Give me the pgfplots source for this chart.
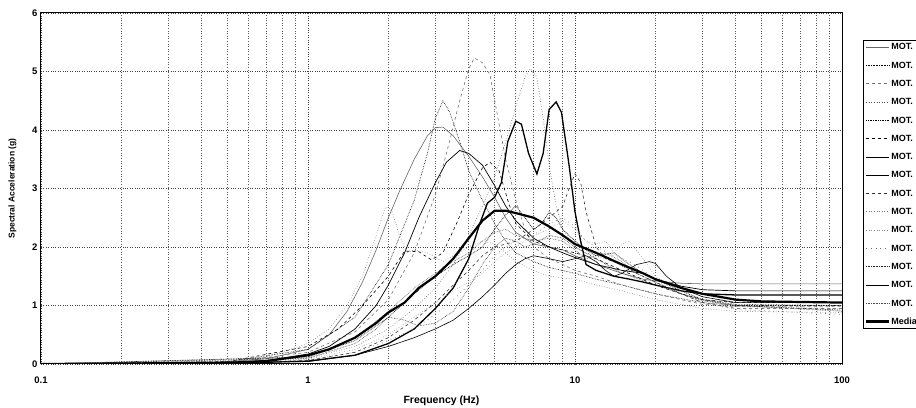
\documentclass[border=0pt]{standalone}
\usepackage{fontspec}
\setmainfont{Liberation Sans}
\usepackage{pgfplots}
\pgfplotsset{compat=1.18}
\begin{document}
\begin{tikzpicture}
\begin{axis}[
  name=ax,
  at={(0pt,0pt)}, anchor=south west,
  scale only axis,
  width=801pt, height=351pt,
  xmode=log, xmin=0.1, xmax=100, ymin=0, ymax=6,
  xtick={0.1,1,10,100}, xticklabels={0.1,1,10,100},
  minor xtick={0.2,0.3,0.4,0.5,0.6,0.7,0.8,0.9,2,3,4,5,6,7,8,9,20,30,40,50,60,70,80,90},
  ytick={0,1,2,3,4,5,6}, yticklabels={0,1,2,3,4,5,6},
  major tick length=0pt, minor tick length=0pt,
  xmajorgrids, xminorgrids, ymajorgrids,
  grid style={dotted, black!75, line width=0.6pt},
  minor grid style={dotted, black!65, line width=0.6pt},
  axis line style={black, line width=1pt},
  tick label style={font=\fontsize{9.5}{10}\selectfont\bfseries},
  xticklabel style={yshift=-9pt},
  xlabel={Frequency (Hz)}, ylabel={Spectral Acceleration (g)},
  xlabel style={font=\fontsize{10.5}{12}\selectfont\bfseries, yshift=-6pt},
  ylabel style={font=\fontsize{8.5}{10}\selectfont\bfseries, yshift=9pt},
  legend style={at={(rel axis cs:1.026,0.923)}, anchor=north west,
    font=\fontsize{9}{10}\selectfont\bfseries, draw=black, line width=0.6pt,
    row sep=8.8pt, inner sep=2pt,
    nodes={inner sep=1pt, text height=6.5pt, text depth=1pt}},
  legend cell align=left,
  legend image code/.code={\draw[#1] (0pt,0pt) -- (23pt,0pt);},
  clip=true,
]
% 1
\addplot[black!60, line width=0.6pt] coordinates {(0.1,0.002)(0.3,0.01)(0.5,0.04)(0.7,0.09)(1,0.25)(1.2,0.5)(1.4,0.9)(1.6,1.4)(1.8,1.95)(2,2.5)(2.2,2.95)(2.5,3.5)(2.8,3.9)(3,4.04)(3.2,4.05)(3.5,3.9)(4,3.55)(4.5,3.2)(5,2.85)(5.5,2.5)(6,2.25)(7,2.05)(8,2.0)(9,1.95)(10,1.85)(12,1.7)(15,1.55)(18,1.45)(20,1.42)(25,1.38)(30,1.37)(40,1.37)(100,1.37)};
\addlegendentry{MOT.}
% 2
\addplot[black, densely dotted, line width=0.6pt] coordinates {(0.1,0.002)(0.5,0.04)(1,0.25)(1.5,0.8)(2,1.7)(2.5,2.8)(2.8,3.6)(3,4.2)(3.2,4.5)(3.4,4.3)(3.7,3.8)(4,3.3)(4.5,2.8)(5,2.4)(5.5,2.1)(6,1.9)(7,1.75)(8,1.65)(10,1.55)(12,1.45)(15,1.35)(20,1.2)(30,1.05)(40,1.0)(100,1.0)};
\addlegendentry{MOT.}
% 3
\addplot[black!55, dashed, line width=0.6pt] coordinates {(0.1,0.001)(0.5,0.03)(1,0.2)(1.5,0.55)(2,1.1)(2.5,1.9)(3,2.9)(3.3,3.6)(3.7,4.5)(4,5.05)(4.2,5.23)(4.5,5.15)(4.8,4.95)(5.1,4.3)(5.5,3.5)(6,2.8)(6.5,2.3)(7,2.0)(8,1.8)(9,1.7)(10,1.6)(12,1.5)(15,1.35)(20,1.2)(25,1.1)(30,1.02)(40,0.98)(100,0.98)};
\addlegendentry{MOT.}
% 4
\addplot[black!70, dotted, line width=0.6pt] coordinates {(0.1,0.001)(0.5,0.02)(1,0.1)(1.5,0.3)(2,0.6)(2.5,0.95)(3,1.3)(3.5,1.7)(4,2.2)(4.5,2.7)(5,3.2)(5.5,3.8)(6,4.4)(6.5,4.9)(6.8,5.05)(7.2,4.9)(7.6,4.2)(8,3.4)(8.5,2.7)(9,2.3)(10,2.0)(11,1.9)(12,1.85)(14,1.75)(16,1.6)(20,1.4)(25,1.2)(30,1.1)(40,1.05)(100,1.05)};
\addlegendentry{MOT.}
% 5
\addplot[black, densely dotted, line width=0.7pt] coordinates {(0.1,0)(1,0.12)(1.5,0.4)(2,0.8)(2.5,1.2)(3,1.5)(3.5,1.7)(4,1.85)(4.5,2.0)(5,2.3)(5.5,2.55)(6,2.7)(6.5,2.5)(7,2.3)(7.5,2.4)(8,2.6)(8.5,2.5)(9,2.3)(10,2.1)(11,1.95)(12,1.85)(14,1.9)(16,1.7)(18,1.55)(20,1.45)(25,1.25)(30,1.1)(40,1.0)(100,0.92)};
\addlegendentry{MOT.}
% 6
\addplot[black, dashed, line width=0.6pt] coordinates {(0.1,0.002)(0.5,0.04)(1,0.3)(1.3,0.6)(1.6,1.0)(2,1.5)(2.3,1.93)(2.6,1.92)(2.9,1.78)(3.2,1.9)(3.6,2.4)(4,2.9)(4.5,3.35)(4.8,3.45)(5.2,3.3)(5.6,2.8)(6,2.4)(7,2.1)(8,2.0)(9,1.95)(10,1.9)(12,1.8)(15,1.6)(20,1.35)(25,1.2)(30,1.1)(40,1.05)(100,1.05)};
\addlegendentry{MOT.}
% 7
\addplot[black, line width=0.7pt] coordinates {(0.1,0.001)(0.3,0.008)(0.5,0.03)(0.7,0.06)(1,0.17)(1.2,0.3)(1.5,0.6)(1.8,1.0)(2,1.35)(2.3,1.9)(2.6,2.5)(3,3.1)(3.3,3.45)(3.7,3.65)(4,3.6)(4.5,3.4)(5,3.05)(5.5,2.7)(6,2.45)(7,2.15)(8,2.0)(9,1.9)(10,1.82)(12,1.7)(15,1.6)(18,1.55)(20,1.45)(25,1.33)(30,1.27)(40,1.25)(100,1.25)};
\addlegendentry{MOT.}
% 8
\addplot[black, line width=1.3pt] coordinates {(0.1,0)(0.5,0.01)(1,0.05)(1.5,0.15)(2,0.35)(2.5,0.6)(3,0.95)(3.5,1.3)(4,1.8)(4.4,2.4)(4.7,2.75)(5.0,2.85)(5.3,3.1)(5.6,3.8)(6.0,4.15)(6.3,4.1)(6.7,3.6)(7.2,3.25)(7.6,3.6)(8.0,4.35)(8.5,4.48)(8.9,4.3)(9.5,3.4)(10,2.6)(10.5,2.1)(11,1.7)(12,1.6)(14,1.5)(16,1.45)(18,1.4)(20,1.35)(25,1.25)(30,1.2)(40,1.18)(100,1.18)};
\addlegendentry{MOT.}
% 9
\addplot[black!80, dashed, line width=0.6pt] coordinates {(0.1,0)(0.5,0.01)(1,0.06)(1.5,0.2)(2,0.45)(2.5,0.75)(3,1.05)(3.5,1.35)(4,1.6)(4.5,1.85)(5,2.0)(5.5,2.05)(6,2.1)(7,2.3)(8,2.5)(9,2.7)(9.5,3.0)(10,3.25)(10.5,3.1)(11,2.6)(12,2.0)(13,1.8)(15,1.7)(17,1.55)(20,1.4)(25,1.2)(30,1.05)(40,0.95)(100,0.95)};
\addlegendentry{MOT.}
% 10
\addplot[black!55, dotted, line width=0.6pt] coordinates {(0.1,0.003)(0.5,0.05)(0.7,0.12)(1,0.35)(1.2,0.6)(1.4,1.0)(1.6,1.5)(1.8,2.2)(1.95,2.68)(2.05,2.65)(2.2,2.2)(2.35,1.9)(2.5,1.95)(2.8,1.9)(3.2,1.75)(3.5,1.85)(4,2.0)(4.5,2.1)(5,2.05)(5.5,1.9)(6,1.75)(7,1.6)(8,1.5)(10,1.45)(12,1.35)(15,1.25)(20,1.1)(30,0.95)(40,0.9)(100,0.88)};
\addlegendentry{MOT.}
% 11
\addplot[black!45, dotted, line width=0.6pt] coordinates {(0.1,0)(1,0.08)(1.5,0.25)(2,0.5)(2.5,0.8)(3,1.05)(3.5,1.25)(4,1.4)(4.5,1.55)(5,1.75)(5.5,1.9)(6,2.0)(7,2.2)(8,2.3)(9,2.45)(10,2.3)(11,2.1)(12,2.05)(13,2.1)(14,1.9)(15,2.05)(16,2.1)(18,1.8)(20,1.5)(25,1.25)(30,1.1)(40,0.98)(100,0.95)};
\addlegendentry{MOT.}
% 12
\addplot[black!60, loosely dotted, line width=0.7pt] coordinates {(0.1,0)(1,0.07)(1.5,0.2)(2,0.4)(2.5,0.6)(3,0.85)(3.5,1.1)(4,1.35)(4.5,1.6)(5,1.85)(5.5,2.0)(6,2.1)(7,2.2)(8,2.4)(9,2.5)(10,2.35)(11,2.1)(12,2.0)(14,1.85)(16,1.75)(18,1.6)(20,1.45)(25,1.2)(30,1.05)(40,0.93)(100,0.85)};
\addlegendentry{MOT.}
% 13
\addplot[black!85, densely dotted, line width=0.6pt] coordinates {(0.1,0)(1,0.1)(1.5,0.35)(1.8,0.6)(2,0.8)(2.3,0.75)(2.6,0.65)(3,0.7)(3.5,0.9)(4,1.3)(4.5,1.7)(5,2.0)(5.5,2.15)(6,2.1)(6.5,2.0)(7,2.05)(8,2.2)(9,2.15)(10,2.0)(12,1.8)(15,1.55)(20,1.35)(25,1.2)(30,1.1)(40,1.02)(100,1.0)};
\addlegendentry{MOT.}
% 14
\addplot[black, line width=0.6pt] coordinates {(0.1,0)(1,0.04)(1.5,0.15)(2,0.3)(2.5,0.45)(3,0.6)(3.5,0.75)(4,0.95)(4.5,1.15)(5,1.35)(5.5,1.55)(6,1.7)(6.5,1.8)(7,1.85)(8,1.8)(9,1.75)(10,1.8)(11,1.85)(12,1.75)(13,1.6)(14,1.5)(15,1.55)(17,1.7)(19,1.75)(20,1.72)(22,1.5)(25,1.3)(30,1.15)(40,1.05)(100,1.05)};
\addlegendentry{MOT.}
% 15
\addplot[black!70, densely dotted, line width=0.6pt] coordinates {(0.1,0)(1,0.12)(1.5,0.45)(2,0.9)(2.5,1.3)(3,1.55)(3.5,1.75)(4,1.9)(4.5,2.1)(5,2.25)(5.5,2.3)(6,2.2)(7,2.1)(8,2.15)(9,2.1)(10,1.95)(11,1.8)(12,1.85)(13,1.9)(15,1.75)(17,1.55)(20,1.4)(25,1.2)(30,1.08)(40,1.0)(100,0.9)};
\addlegendentry{MOT.}
% median
\addplot[black, line width=2.2pt] coordinates {(0.1,0)(0.5,0.02)(0.7,0.05)(1,0.15)(1.2,0.25)(1.5,0.45)(1.8,0.7)(2,0.88)(2.3,1.05)(2.6,1.3)(3,1.5)(3.5,1.8)(4,2.15)(4.5,2.45)(5,2.62)(5.5,2.62)(6,2.58)(7,2.5)(8,2.35)(9,2.2)(10,2.05)(12,1.9)(15,1.7)(18,1.55)(20,1.45)(25,1.3)(30,1.2)(40,1.1)(50,1.07)(100,1.05)};
\addlegendentry{Median}
\end{axis}
\pgfresetboundingbox
\path[use as bounding box] ([xshift=-41pt,yshift=-44pt]ax.south west) rectangle ([xshift=74pt,yshift=13pt]ax.north east);
\end{tikzpicture}
\end{document}
